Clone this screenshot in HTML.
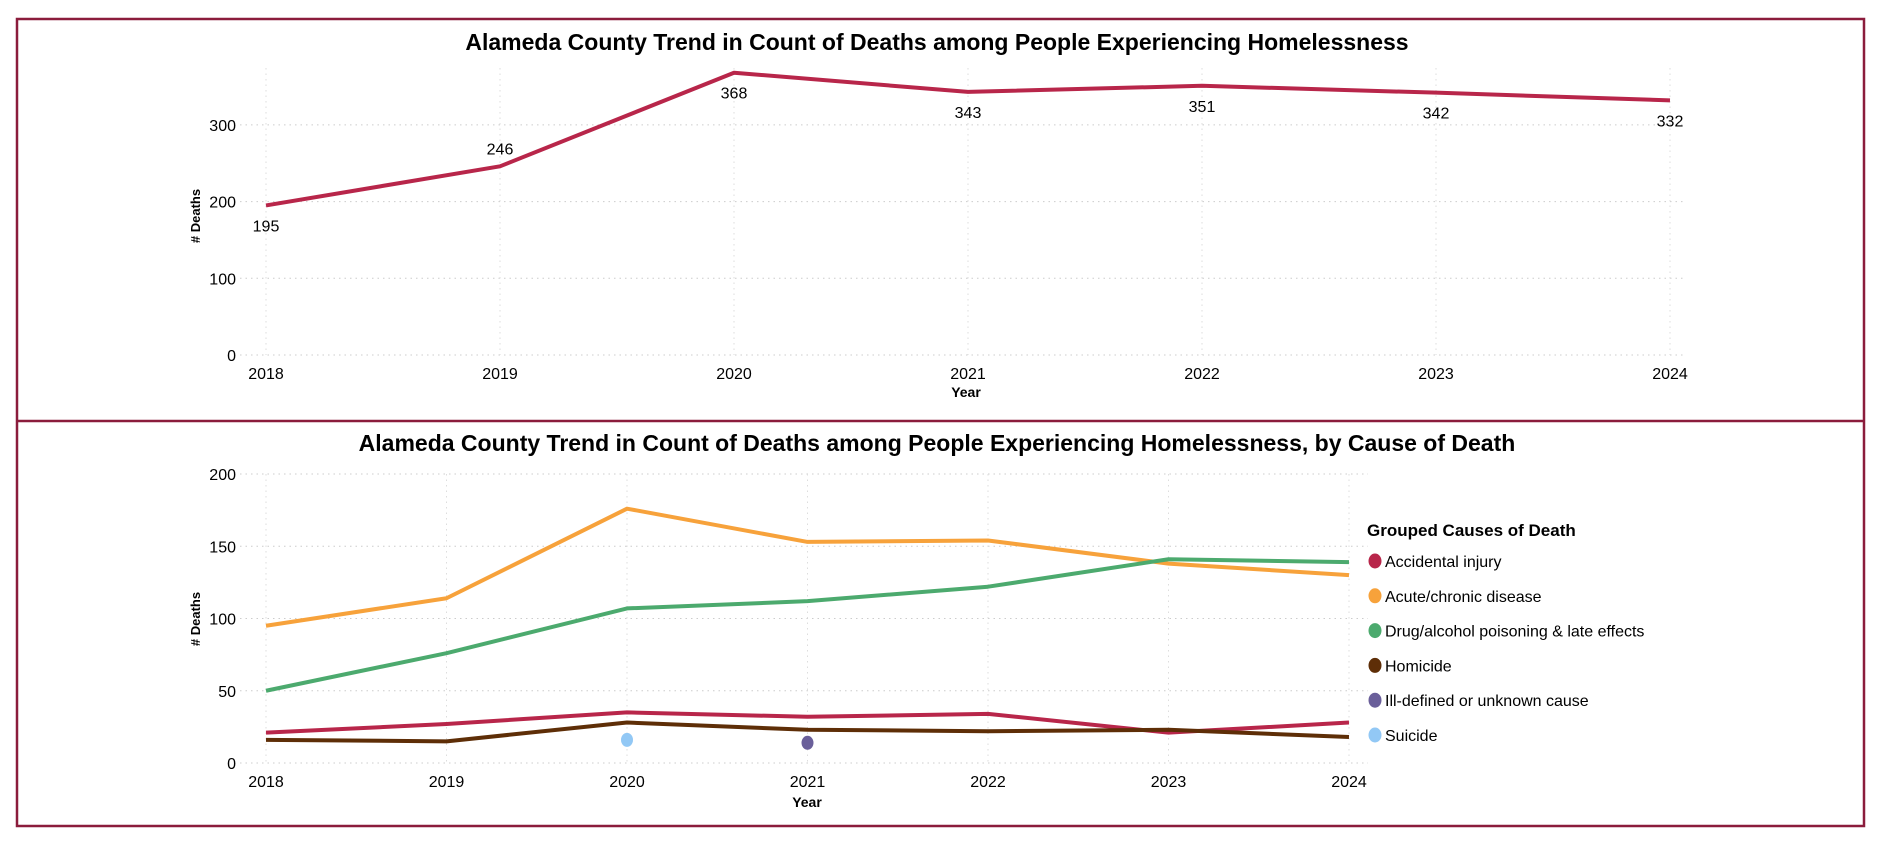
<!DOCTYPE html>
<html><head><meta charset="utf-8"><style>
body{margin:0;background:#fff;width:1882px;height:848px;overflow:hidden}
svg{display:block;font-family:"Liberation Sans Narrow","Liberation Sans",sans-serif}
</style></head><body>
<svg id="s" width="1882" height="848">
<rect x="17" y="19" width="1847" height="807" fill="none" stroke="#8b1c3c" stroke-width="2.5"/>
<line x1="17" y1="421" x2="1864" y2="421" stroke="#8b1c3c" stroke-width="2.5"/>
<text x="937" y="50" text-anchor="middle" font-size="23" font-weight="bold">Alameda County Trend in Count of Deaths among People Experiencing Homelessness</text>
<text x="937" y="451" text-anchor="middle" font-size="23" font-weight="bold">Alameda County Trend in Count of Deaths among People Experiencing Homelessness, by Cause of Death</text>
<g id="top"></g><g id="bot"></g>
</svg>
<script>
const years = [2018,2019,2020,2021,2022,2023,2024];
const totalDeaths = [195,246,368,343,351,342,332];
const topTicks = [0,100,200,300];
const botTicks = [0,50,100,150,200];
const accidental = [21,27,35,32,34,21,28];
const acute = [95,114,176,153,154,138,130];
const drug = [50,76,107,112,122,141,139];
const homicide = [16,15,28,23,22,23,18];
const illDefinedYears = [2021];
const illDefined = [14];
const suicideYears = [2020];
const suicide = [16];
const legendLabels = ["Accidental injury","Acute/chronic disease","Drug/alcohol poisoning & late effects","Homicide","Ill-defined or unknown cause","Suicide"];

const NS="http://www.w3.org/2000/svg";
function mk(p,tag,a){const e=document.createElementNS(NS,tag);for(const k in a)e.setAttribute(k,a[k]);p.appendChild(e);return e;}
function txt(p,x,y,s,a){const e=mk(p,'text',Object.assign({x:x,y:y,'font-size':16},a||{}));e.textContent=s;return e;}

// top chart
const T=document.getElementById('top');
const tx=y=>266+(y-2018)*(1670-266)/6;
const ty=v=>355-v*0.767;
topTicks.forEach(t=>{
  const l=mk(T,'line',{x1:240,x2:1686,y1:ty(t),y2:ty(t),stroke:'#ccc','stroke-dasharray':'1.5 4'});
  
  
  const e=txt(T,236,ty(t)+6,String(t),{'text-anchor':'end'});
  
  
});
years.forEach(y=>{
  const l=mk(T,'line',{x1:tx(y),x2:tx(y),y1:68,y2:355,stroke:'#ddd','stroke-dasharray':'1.5 4'});
  
  
  const e=txt(T,tx(y),379,String(y),{'text-anchor':'middle'});
  
  
});
{const e=txt(T,966,397,'Year',{'text-anchor':'middle','font-size':14,'font-weight':'bold'});

const f=txt(T,0,0,'# Deaths',{'text-anchor':'middle','font-size':13,'font-weight':'bold',transform:'translate(200,216) rotate(-90)'});
}
{const p=mk(T,'polyline',{points:years.map((y,i)=>tx(y)+','+ty(totalDeaths[i])).join(' '),fill:'none',stroke:'#b8264a','stroke-width':4,'stroke-linejoin':'round'});
}
const above=[false,true,false,false,false,false,false];
years.forEach((y,i)=>{
  const e=txt(T,tx(y),above[i]?ty(totalDeaths[i])-12:ty(totalDeaths[i])+26,String(totalDeaths[i]),{'text-anchor':'middle'});
  
  
});

// bottom chart
const B=document.getElementById('bot');
const bx=y=>266+(y-2018)*(1349-266)/6;
const by=v=>763-v*1.445;
botTicks.forEach(t=>{
  const l=mk(B,'line',{x1:240,x2:1368,y1:by(t),y2:by(t),stroke:'#ccc','stroke-dasharray':'1.5 4'});
  
  
  const e=txt(B,236,by(t)+6,String(t),{'text-anchor':'end'});
  
  
});
years.forEach(y=>{
  const l=mk(B,'line',{x1:bx(y),x2:bx(y),y1:474,y2:763,stroke:'#ddd','stroke-dasharray':'1.5 4'});
  
  
  const e=txt(B,bx(y),787,String(y),{'text-anchor':'middle'});
  
  
});
{const e=txt(B,807,807,'Year',{'text-anchor':'middle','font-size':14,'font-weight':'bold'});

const f=txt(B,0,0,'# Deaths',{'text-anchor':'middle','font-size':13,'font-weight':'bold',transform:'translate(200,619) rotate(-90)'});
}
const colors=['#b8264a','#f7a23b','#4caa6e','#5e2e07','#6a5f9a','#92c8f5'];
[[acute,1,'acute-line'],[drug,2,'drug-line'],[accidental,0,'accidental-line'],[homicide,3,'homicide-line']].forEach(([d,c,n])=>{
  const p=mk(B,'polyline',{points:years.map((y,i)=>bx(y)+','+by(d[i])).join(' '),fill:'none',stroke:colors[c],'stroke-width':4,'stroke-linejoin':'round'});
  
  
});
illDefinedYears.forEach((y,i)=>{
  const c=mk(B,'ellipse',{cx:bx(y),cy:by(illDefined[i]),rx:6,ry:7,fill:colors[4]});
  
  
});
suicideYears.forEach((y,i)=>{
  const c=mk(B,'ellipse',{cx:bx(y),cy:by(suicide[i]),rx:6,ry:7,fill:colors[5]});
  
  
});
{const e=txt(B,1367,536,'Grouped Causes of Death',{'font-size':17,'font-weight':'bold'});
}
legendLabels.forEach((s,i)=>{
  const y=561+i*34.8;
  const c=mk(B,'ellipse',{cx:1375,cy:y,rx:6.5,ry:7.5,fill:colors[i]});
  
  
  const e=txt(B,1385,y+6,s,{'font-size':16});
  
  
});
</script>
</body></html>
